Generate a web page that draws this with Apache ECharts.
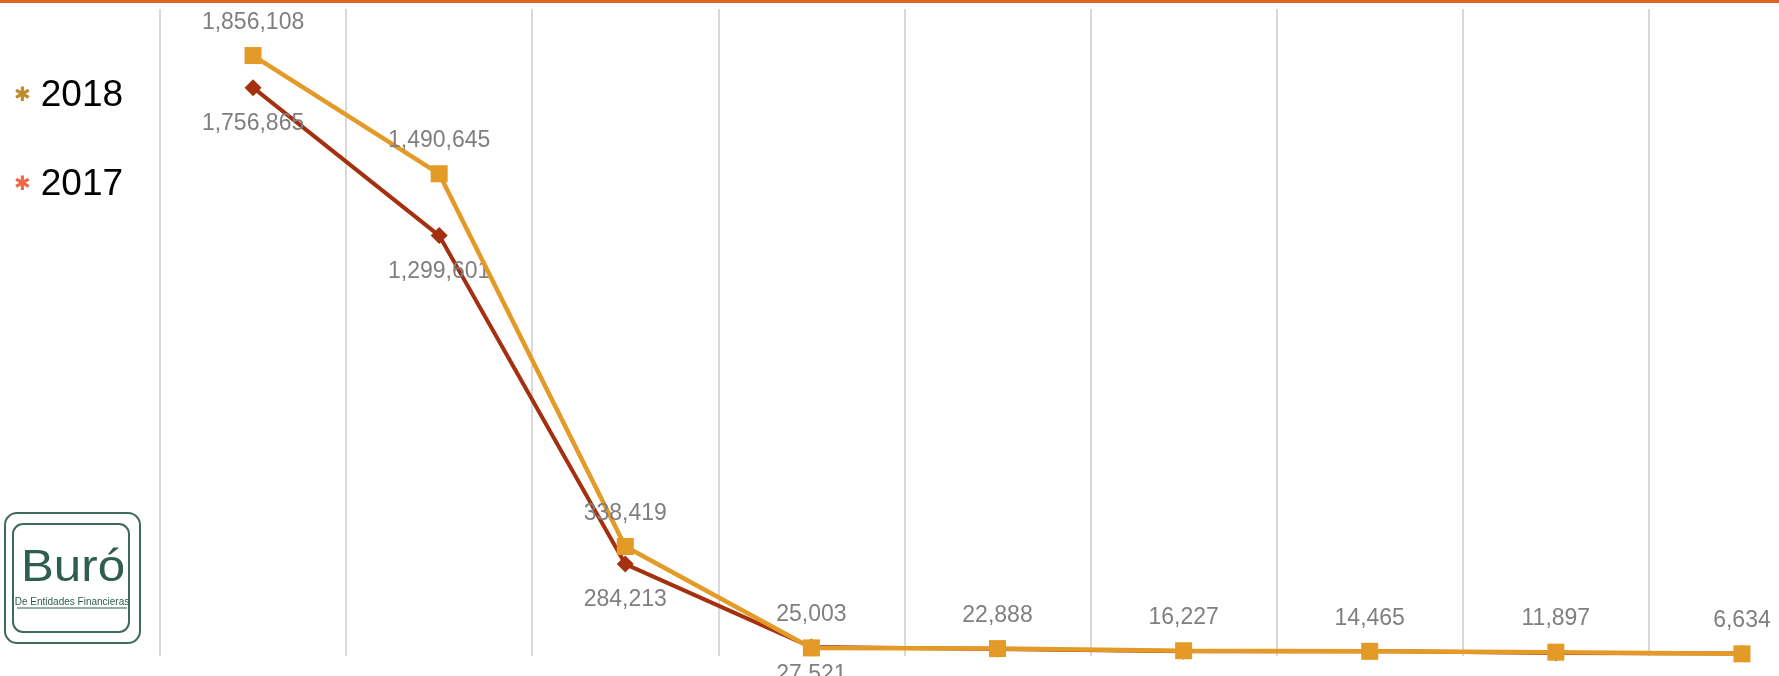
<!DOCTYPE html>
<html>
<head>
<meta charset="utf-8">
<title>Buró 2017 vs 2018</title>
<script src="https://cdn.jsdelivr.net/npm/echarts@6/dist/echarts.min.js"></script>
<style>
  html, body { margin: 0; padding: 0; background: #ffffff; }
  #chart { width: 1779px; height: 676px; }
</style>
</head>
<body>
<div id="chart"></div>
<script>
// categories (no names shown in the picture)
const categories = ["1", "2", "3", "4", "5", "6", "7", "8", "9"];
const values2018 = [1856108, 1490645, 338419, 25003, 22888, 16227, 14465, 11897, 6634];
const values2017 = [1756865, 1299601, 284213, 27521, 21500, 14500, 15500, 9500, 7800];
const legendNames = ["2018", "2017"];
const legendStarColors = { "2018": "#C08A2A", "2017": "#EF6A44" };

const chart = echarts.init(document.getElementById("chart"));

const labelFont = {
  fontFamily: "Liberation Sans",
  fontSize: 23,
  color: "#7F7F7F",
};

const option = {
  animation: false,
  backgroundColor: "#ffffff",
  grid: {
    left: 160,
    right: -56, // last band runs off the right edge
    top: 9,
    bottom: 20,
    outerBoundsMode: "none",
  },
  legend: {
    data: legendNames,
    orient: "vertical",
    left: 4,
    top: 71,
    icon: "none",
    itemWidth: 0,
    itemHeight: 40,
    itemGap: 50,
    selectedMode: false,
    formatter: function (name) {
      return "{s" + name + "|✱}{t|" + name + "}";
    },
    textStyle: {
      rich: {
        s2018: { color: legendStarColors["2018"], fontFamily: "DejaVu Sans", fontSize: 20, padding: [0, 10, 0, 0] },
        s2017: { color: legendStarColors["2017"], fontFamily: "DejaVu Sans", fontSize: 20, padding: [0, 10, 0, 0] },
        t: { color: "#000000", fontFamily: "Liberation Sans", fontSize: 37, lineHeight: 40 },
      },
    },
  },
  xAxis: {
    type: "category",
    data: categories,
    boundaryGap: true,
    axisLine: { show: false },
    axisTick: { show: false },
    axisLabel: { show: false },
    splitLine: { show: true, lineStyle: { color: "#D9D9D9", width: 2 } },
  },
  yAxis: {
    type: "value",
    min: 0,
    max: 2000000,
    show: false,
    splitLine: { show: false },
  },
  series: [
    {
      name: "2017",
      type: "line",
      data: values2017.map(function (v, i) {
        // labels past the 4th point fall below the frame in the original
        if (i === 3) return { value: v, label: { offset: [0, 28] } };
        if (i > 3) return { value: v, label: { show: false } };
        return v;
      }),
      symbol: "diamond",
      symbolSize: 17,
      lineStyle: { color: "#A5300F", width: 4 },
      itemStyle: { color: "#A5300F" },
      label: Object.assign({
        show: true,
        position: "inside",
        offset: [0, 36],
        formatter: function (p) { return p.value.toLocaleString("en-US"); },
      }, labelFont),
      z: 2,
    },
    {
      name: "2018",
      type: "line",
      data: values2018,
      symbol: "rect",
      symbolSize: 17,
      lineStyle: { color: "#E39A26", width: 4.5 },
      itemStyle: { color: "#E39A26" },
      label: Object.assign({
        show: true,
        position: "inside",
        offset: [0, -33],
        formatter: function (p) { return p.value.toLocaleString("en-US"); },
      }, labelFont),
      z: 3,
    },
  ],
  graphic: [
    // orange strip along the top
    { type: "rect", left: 0, top: 0, shape: { width: 1779, height: 3 }, style: { fill: "#DF6423" }, z: 10 },
    // Buró logo
    {
      type: "group",
      left: 4,
      top: 512,
      children: [
        { type: "rect", shape: { x: 0, y: 0, width: 135, height: 130, r: 12 }, style: { fill: "#ffffff", stroke: "#3E6B5C", lineWidth: 2 } },
        { type: "rect", shape: { x: 8, y: 11, width: 116, height: 108, r: 10 }, style: { fill: "#ffffff", stroke: "#3E6B5C", lineWidth: 2 } },
        { type: "text", x: 68, y: 56, scaleX: 1.12, style: { text: "Buró", fill: "#2E5E4E", font: "44px 'Liberation Sans'", align: "center", verticalAlign: "middle" } },
        { type: "text", x: 67, y: 89, style: { text: "De Entidades Financieras", fill: "#2E5E4E", font: "10px 'Liberation Sans'", align: "center", verticalAlign: "middle" } },
        { type: "line", shape: { x1: 12, y1: 95, x2: 122, y2: 95 }, style: { stroke: "#2E5E4E", lineWidth: 1 } },
      ],
    },
  ],
};

chart.setOption(option);
</script>
</body>
</html>
